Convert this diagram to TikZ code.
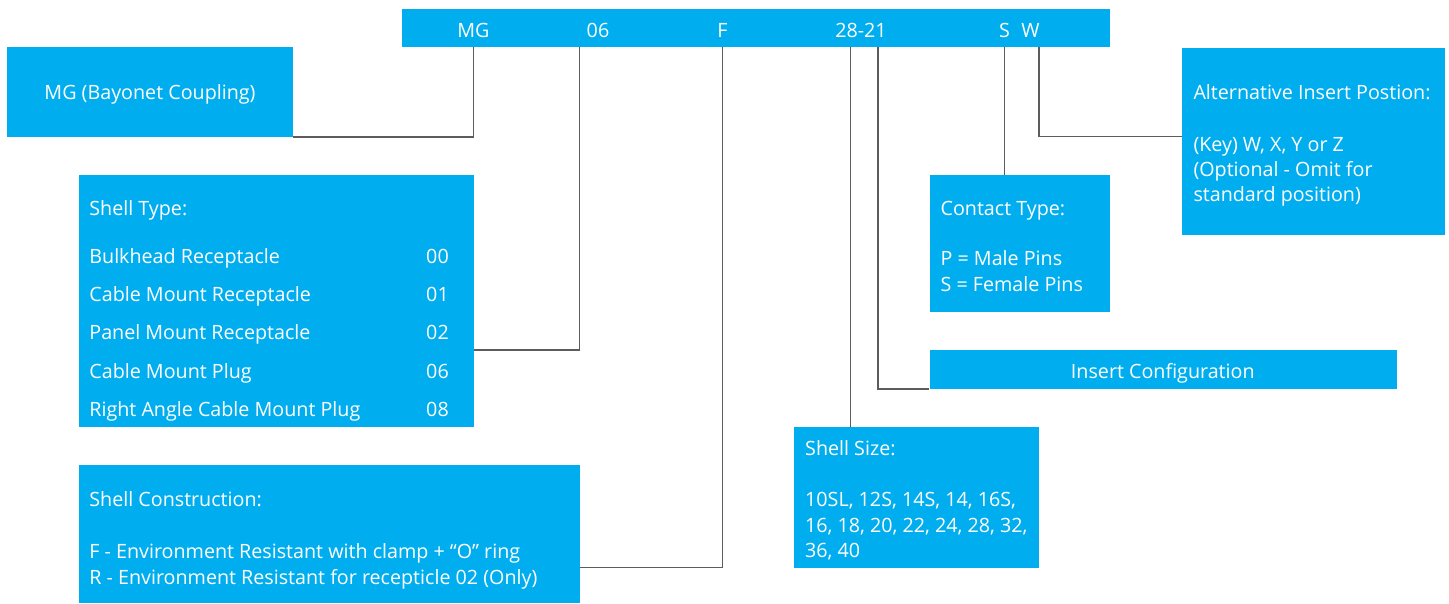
\documentclass[tikz,border=0pt]{standalone}
\usepackage{fontspec}
\setmainfont{Open Sans}
\usepackage{tikz}
\usetikzlibrary{positioning}
\definecolor{mgblue}{HTML}{00AEEF}
\definecolor{leadgray}{HTML}{5C5C5C}
\tikzset{
  codebox/.style={fill=mgblue, draw=none, inner sep=0pt, anchor=north west},
  txt/.style={text=white, font=\fontsize{19.7}{26}\selectfont, inner sep=0pt, anchor=base west},
  lead/.style={draw=leadgray, line width=1.3pt},
}

\begin{document}
\begin{tikzpicture}[x=1pt, y=-1pt]
\useasboundingbox (0,0) rectangle (1449,603);
% Part number bar
\node[codebox, minimum width=708, minimum height=38] (bar) at (402,9) {};
\node[txt, anchor=base] (cMG) at (473.5,37) {MG};
\node[txt, anchor=base] (c06) at (598,37) {06};
\node[txt, anchor=base] (cF) at (722.5,37) {F};
\node[txt, anchor=base] (c2821) at (861,37) {28-21};
\node[txt, anchor=base] (cS) at (1004.5,37) {S};
\node[txt, anchor=base] (cW) at (1030.5,37) {W};
\coordinate (k06) at (579.8,47);
\coordinate (k28) at (850.3,47);
\coordinate (k21) at (878,47);
\coordinate (kW) at (1038.9,47);
% Coupling
\node[codebox, minimum width=286, minimum height=89.5] (coupling) at (7,47.2) {};
\node[txt, anchor=base] (coupling-t) at (150,99) {MG (Bayonet Coupling)};
% Shell type
\node[codebox, minimum width=394.4, minimum height=251.5] (shelltype) at (79,175.2) {};
\node[txt] (shelltype-t) at (89.2,215) {Shell Type:};
\foreach \name/\code [count=\i] in {Bulkhead Receptacle/00, Cable Mount Receptacle/01,
    Panel Mount Receptacle/02, Cable Mount Plug/06, Right Angle Cable Mount Plug/08}{
  \node[txt] (st-\i) at (89.2,263+38.35*\i-38.35) {\name};
  \node[txt, anchor=base] (sc-\i) at (437.5,263+38.35*\i-38.35) {\code};
}
% Shell construction
\node[codebox, minimum width=500.3, minimum height=138] (construct) at (79,465) {};
\node[txt] (construct-t) at (89.2,506.5) {Shell Construction:};
\node[txt] (construct-1) at (89.2,558.3) {F - Environment Resistant with clamp + “O” ring};
\node[txt] (construct-2) at (89.2,584.1) {R - Environment Resistant for recepticle 02 (Only)};
% Shell size
\node[codebox, minimum width=244.6, minimum height=140.7] (size) at (793.9,427) {};
\node[txt] (size-t) at (805,455) {Shell Size:};
\node[txt] (size-1) at (805,506.7) {10SL, 12S, 14S, 14, 16S,};
\node[txt] (size-2) at (805,532.5) {16, 18, 20, 22, 24, 28, 32,};
\node[txt] (size-3) at (805,557.5) {36, 40};
% Insert configuration
\node[codebox, minimum width=467, minimum height=38.7] (insert) at (929.3,350) {};
\node[txt, anchor=base] (insert-t) at (1162.8,378.3) {Insert Configuration};
% Contact type
\node[codebox, minimum width=180.7, minimum height=136.5] (contact) at (929.3,175.2) {};
\node[txt] (contact-t) at (940.4,215) {Contact Type:};
\node[txt] (contact-1) at (940.4,265.7) {P = Male Pins};
\node[txt] (contact-2) at (940.4,291.7) {S = Female Pins};
% Alternative insert position
\node[codebox, minimum width=262.6, minimum height=187.4] (alt) at (1181.8,47.3) {};
\node[txt] (alt-t) at (1193.3,99) {Alternative Insert Postion:};
\node[txt] (alt-1) at (1193.3,151.5) {(Key) W, X, Y or Z};
\node[txt] (alt-2) at (1193.3,176.5) {(Optional - Omit for};
\node[txt] (alt-3) at (1193.3,201.5) {standard position)};
% Leads
\draw[lead] (cMG |- bar.south) |- (coupling.south east);
\draw[lead] (k06) |- (shelltype.east |- 0,350);
\draw[lead] (cF |- bar.south) |- (construct.east |- 0,567.7);
\draw[lead] (k28) -- (k28 |- size.north);
\draw[lead] (k21) |- (insert.south west);
\draw[lead] (cS |- bar.south) -- (cS |- contact.north);
\draw[lead] (kW) |- (alt.west |- 0,136.7);
\end{tikzpicture}
\end{document}
